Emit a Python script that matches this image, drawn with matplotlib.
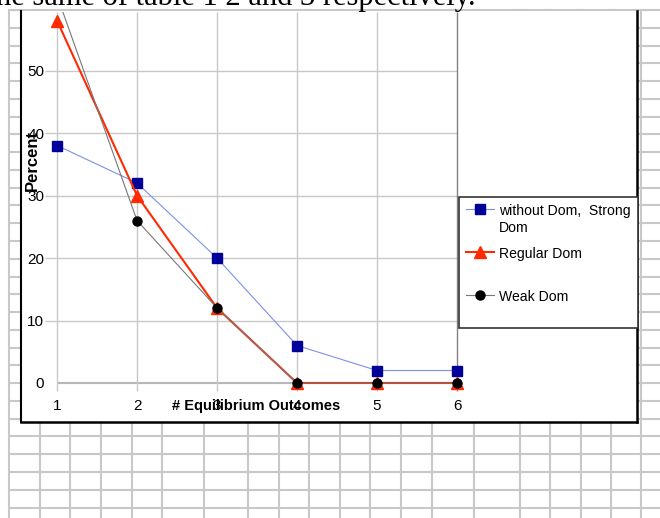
import matplotlib
matplotlib.use("Agg")
import matplotlib.pyplot as plt
from matplotlib.patches import Rectangle
import numpy as np

# ---- data ----
outcomes = [1, 2, 3, 4, 5, 6]
without_strong = [38, 32, 20, 6, 2, 2]
regular = [58, 30, 12, 0, 0, 0]
weak = [62, 26, 12, 0, 0, 0]
y_ticks = [0, 10, 20, 30, 40, 50]
series_labels = ["without Dom,  Strong\nDom", "Regular Dom\n ", "Weak Dom\n "]
x_title = "# Equilibrium Outcomes"
y_title = "Percent"
doc_text = "he same of table 1 2 and 3 respectively."

plt.rcParams['font.family'] = ['Liberation Sans', 'DejaVu Sans']

W, H = 660, 518
fig = plt.figure(figsize=(6.6, 5.18), dpi=100)

# ---- background: document + spreadsheet grid ----
bg = fig.add_axes([0, 0, 1, 1])
bg.set_xlim(0, W)
bg.set_ylim(H, 0)
bg.axis('off')
rows = np.arange(10, H + 1, 17.77)
cols = [9, 40, 70, 101, 132, 162, 204, 248, 279, 309, 340, 370, 401, 432,
        474, 520, 550, 581, 611, 641]
grid_c = '#c8c8c8'
for r in rows:
    bg.plot([9, W], [r, r], color=grid_c, lw=1.5, zorder=1)
for c in cols:
    bg.plot([c, c], [10, H], color=grid_c, lw=1.5, zorder=1)
bg.add_patch(Rectangle((21, 11), 616, 411, facecolor='white',
                       edgecolor='none', zorder=3))
bg.plot([21, 21], [11, 422], color='black', lw=1.5, zorder=4)
bg.plot([637, 637], [11, 422], color='black', lw=1.8, zorder=4)
bg.plot([21, 637], [422, 422], color='black', lw=1.8, zorder=4)
bg.text(-4, 5, doc_text, family=['Liberation Serif', 'DejaVu Serif'],
        fontsize=22, va='baseline', ha='left', zorder=5)

# ---- chart ----
px_l, px_r, px_t, px_b = 45, 470, 12, 395
ax = fig.add_axes([px_l / W, 1 - px_b / H, (px_r - px_l) / W, (px_b - px_t) / H])
ax.patch.set_alpha(0)
ax.set_xlim(0.85, 6.1625)
ax.set_ylim(-1.92, 59.36)
for s in ax.spines.values():
    s.set_visible(False)

ax.hlines(y_ticks[1:], 0.85, 6, color='#c8c8c8', lw=1, zorder=1)
ax.hlines([0], 1, 6, color='#b8b8b8', lw=1.5, zorder=1)
ax.vlines(outcomes[:-1], -1.2, 59.36, color='#c8c8c8', lw=1, zorder=1)
ax.vlines(outcomes[-1:], -1.2, 59.36, color='#808080', lw=1, zorder=1)

ax.plot(outcomes, without_strong, color='#7f8fe6', lw=0.8, marker='s', ms=7,
        mfc='#000099', mec='#000099', label=series_labels[0], zorder=3)
ax.plot(outcomes, regular, color='#ff2a00', lw=1.5, marker='^', ms=8,
        mfc='#ff2a00', mec='#ff2a00', label=series_labels[1], zorder=4)
ax.plot(outcomes, weak, color='#777777', lw=0.8, marker='o', ms=6.5,
        mfc='black', mec='black', label=series_labels[2], zorder=5)

ax.set_xticks(outcomes)
ax.set_xticklabels([str(v) for v in outcomes])
ax.set_yticks(y_ticks)
ax.set_yticklabels([str(v) for v in y_ticks])
ax.tick_params(length=0, labelsize=11)
ax.tick_params(axis='y', pad=0.5)
ax.tick_params(axis='x', pad=3.0)

ax.set_xlabel(x_title, fontweight='bold', fontsize=10.5, va='center')
ax.xaxis.set_label_coords((256 - px_l) / (px_r - px_l), (px_b - 406) / (px_b - px_t))
ax.set_ylabel(y_title, fontweight='bold', fontsize=12, va='center')
ax.yaxis.set_label_coords((32 - px_l) / (px_r - px_l), (px_b - 160) / (px_b - px_t))

leg = ax.legend(loc='upper left', bbox_to_anchor=(459, 197),
                bbox_transform=bg.transData, fontsize=10.1, frameon=True,
                fancybox=False, framealpha=1, edgecolor='#333333',
                borderaxespad=0, borderpad=0.5, handlelength=2.0,
                handletextpad=0.36, labelspacing=0.84)
leg.get_frame().set_linewidth(1.2)
for t in leg.get_texts():
    t.set_linespacing(1.28)
# align each legend handle with the first line of its label
for col in leg._legend_handle_box.get_children():
    for item in col.get_children():
        item.align = 'top'

fig.savefig('out.png', dpi=100)
